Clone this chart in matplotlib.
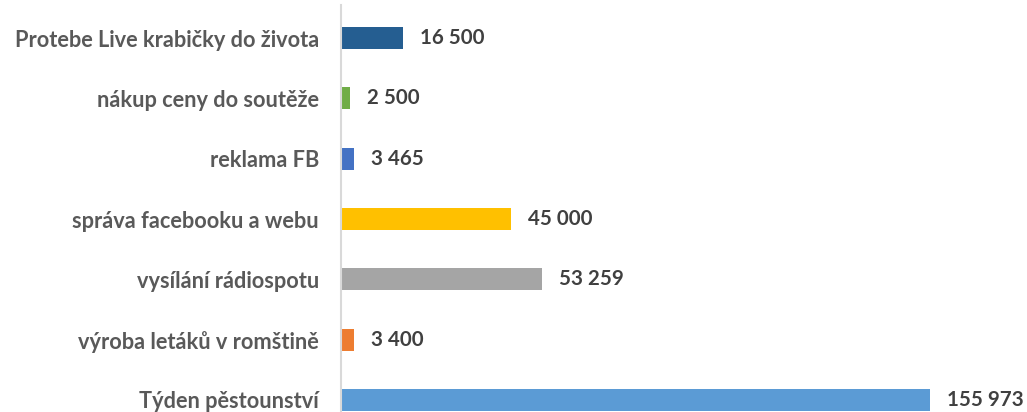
import matplotlib
matplotlib.use("Agg")
import matplotlib.pyplot as plt

categories = ["Týden pěstounství", "výroba letáků v romštině", "vysílání rádiospotu",
              "správa facebooku a webu", "reklama FB", "nákup ceny do soutěže",
              "Protebe Live krabičky do života"]
values = [155973, 3400, 53259, 45000, 3465, 2500, 16500]
value_labels = ["155 973", "3 400", "53 259", "45 000", "3 465", "2 500", "16 500"]
colors = ["#5B9BD5", "#ED7D31", "#A5A5A5", "#FFC000", "#4472C4", "#70AD47", "#255E91"]

plt.rcParams['font.family'] = ['Lato', 'DejaVu Sans']

fig = plt.figure(figsize=(10.27, 4.12), dpi=100)
ax = fig.add_axes([341/1027, 0, 1 - 341/1027, (412 - 5)/412])

y = list(range(len(categories)))
ax.barh(y, values, height=0.365, color=colors, zorder=2)
ax.set_xlim(0, 181660)
ax.set_ylim(-0.2, 6.55)

ax.set_yticks(y)
ax.set_yticklabels(categories, fontsize=15.7, fontweight='bold', color='#595959')
ax.tick_params(axis='y', length=0, pad=16)
ax.set_xticks([])

for s in ['top', 'right', 'bottom']:
    ax.spines[s].set_visible(False)
ax.spines['left'].set_color('#D9D9D9')
ax.spines['left'].set_linewidth(1.5)

for yi, v, lab in zip(y, values, value_labels):
    ax.annotate(lab, xy=(v, yi), xytext=(12, 0), textcoords='offset points',
                ha='left', va='center', fontsize=14.8, fontweight='bold', color='#404040',
                annotation_clip=False)

fig.savefig("out.png", dpi=100)
